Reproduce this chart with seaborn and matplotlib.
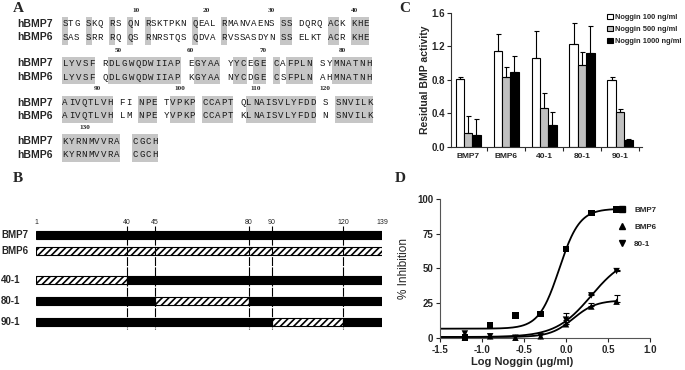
import numpy as np
import pandas as pd
import matplotlib
matplotlib.use("Agg")
import matplotlib.pyplot as plt
from matplotlib.patches import Rectangle
from matplotlib.lines import Line2D
import seaborn as sns

# ---------------- Panel A : sequence alignment ----------------
SEQ_HBMP7 = ["STG SKQ RS QN RSKTPKN QEAL RMANVAENS SS DQRQ ACK KHE",
             "LYVSF RDLGWQDWIIAP EGYAA YYCEGE CAFPLN SYMNATNH",
             "AIVQTLVH FI NPE TVPKP CCAPT QLNAISVLYFDD S SNVILK",
             "KYRNMVVRA  CGCH"]
SEQ_HBMP6 = ["SAS SRR RQ QS RNRSTQS QDVA RVSSASDYN SS ELKT ACR KHE",
             "LYVSF QDLGWQDWIIAP KGYAA NYCDGE CSFPLN AHMNATNH",
             "AIVQTLVH LM NPE YVPKP CCAPT KLNAISVLYFDD N SNVILK",
             "KYRNMVVRA  CGCH"]
ROW_FIRST_RESIDUE = [1, 43, 85, 127]
POSITION_MARKS = [[10, 20, 30, 40], [50, 60, 70, 80], [90, 100, 110, 120], [130]]

# ---------------- Panel B : chimera schematic ----------------
CONSTRUCTS_B = ["BMP7", "BMP6", "40-1", "80-1", "90-1"]
JUNCTIONS = [1, 40, 45, 80, 90, 120, 139]
SEG_CONSTRUCT = ["BMP7", "BMP6", "40-1", "40-1", "80-1", "80-1", "80-1", "90-1", "90-1", "90-1"]
SEG_START = [1, 1, 1, 40, 1, 45, 80, 1, 90, 120]
SEG_END = [139, 139, 40, 139, 45, 80, 139, 90, 120, 139]
SEG_ORIGIN = ["BMP7", "BMP6", "BMP6", "BMP7", "BMP7", "BMP6", "BMP7", "BMP7", "BMP6", "BMP7"]

# ---------------- Panel C : residual activity ----------------
C_GROUPS = ["BMP7", "BMP6", "40-1", "80-1", "90-1"]
C_DOSES = ["Noggin 100 ng/ml", "Noggin 500 ng/ml", "Noggin 1000 ng/ml"]
C_NOG100 = [0.81, 1.15, 1.06, 1.23, 0.80]
C_NOG100_ERR = [0.03, 0.20, 0.32, 0.25, 0.03]
C_NOG500 = [0.17, 0.83, 0.46, 0.98, 0.42]
C_NOG500_ERR = [0.20, 0.12, 0.19, 0.15, 0.03]
C_NOG1000 = [0.14, 0.89, 0.26, 1.12, 0.08]
C_NOG1000_ERR = [0.19, 0.20, 0.16, 0.32, 0.01]

# ---------------- Panel D : noggin inhibition ----------------
D_LOG_NOGGIN = [-1.204, -0.903, -0.602, -0.301, 0.0, 0.301, 0.602]
D_BMP7 = [0, 9, 16, 17, 64, 90, 92.5]
D_BMP7_ERR = [0, 0, 0, 0, 0, 0, 0]
D_BMP6 = [0, 1, 0, 1, 9.7, 22.5, 26]
D_BMP6_ERR = [0, 0, 0, 0, 1.5, 2.5, 4.5]
D_801 = [3, 1, 0, 1, 13, 30.5, 48]
D_801_ERR = [0, 0, 0, 0, 4.5, 1, 1]
D_NAMES = ["BMP7", "BMP6", "80-1"]
FIT_BOTTOM = [6.5, 0.5, 0.5]
FIT_TOP = [93.0, 27.0, 60.0]
FIT_LOGEC50 = [-0.08, 0.085, 0.30]
FIT_HILL = [3.6, 3.2, 2.05]

# ------------------------------------------------------------
sns.set_style("ticks")
plt.rcParams["font.family"] = ["Liberation Sans", "DejaVu Sans"]
plt.rcParams["axes.unicode_minus"] = False
plt.rcParams["hatch.linewidth"] = 1.2

W, H = 685, 370
fig = plt.figure(figsize=(W / 100, H / 100), dpi=100)


def px_rect(l, t, r, b):
    return [l / W, 1 - b / H, (r - l) / W, (b - t) / H]


ov = fig.add_axes([0, 0, 1, 1])
ov.set_xlim(0, W)
ov.set_ylim(H, 0)
ov.axis("off")

serif_bold = dict(family=["Liberation Serif", "DejaVu Serif"], fontweight="bold")
for lab, (x, y) in zip("ABCD", [(18, 8), (18, 179), (405, 8), (400, 178)]):
    ov.text(x, y, lab, ha="center", va="center", fontsize=11, **serif_bold)

# ---- Panel A drawing
ROW_Y7 = [24, 63.5, 102.5, 141]
LINE_GAP = 13.5
ROW_X0 = 62
ROW_X1 = [369, 372, 373, 158]
shade = "#c6c6c6"
for r, (s7, s6) in enumerate(zip(SEQ_HBMP7, SEQ_HBMP6)):
    y7 = ROW_Y7[r]
    y6 = y7 + LINE_GAP
    n = len(s7)
    cw = (ROW_X1[r] - ROW_X0) / n
    ov.text(17, y7, "hBMP7", ha="left", va="center", fontsize=7.5, fontweight="bold")
    ov.text(17, y6, "hBMP6", ha="left", va="center", fontsize=7.5, fontweight="bold")
    same = [(a != " " and a == b) for a, b in zip(s7, s6)]
    i = 0
    while i < n:
        if same[i]:
            j = i
            while j + 1 < n and same[j + 1]:
                j += 1
            ov.add_patch(Rectangle((ROW_X0 + i * cw, y7 - 7), (j - i + 1) * cw,
                                   LINE_GAP + 14, facecolor=shade, edgecolor="none", zorder=1))
            i = j + 1
        else:
            i += 1
    slot_of_res = {}
    k = ROW_FIRST_RESIDUE[r]
    for i, (a, b) in enumerate(zip(s7, s6)):
        xc = ROW_X0 + (i + 0.5) * cw
        if a != " ":
            slot_of_res[k] = xc
            k += 1
        for ch, yy in ((a, y7), (b, y6)):
            if ch != " ":
                ov.text(xc, yy, ch, ha="center", va="center", fontsize=6.6,
                        family=["Liberation Mono", "DejaVu Sans Mono"],
                        color="#1a1a1a", zorder=2)
    for m in POSITION_MARKS[r]:
        ov.text(slot_of_res[m], y7 - 13.5, str(m), ha="center", va="center",
                fontsize=5.2, **serif_bold)

# ---- Panel B drawing
SCHEMATIC_X = [36, 127, 155, 249, 272, 343, 382]
ROW_Y_B = [235, 251, 280, 301, 322]


def fwd(r):
    r = np.asarray(r, dtype=float)
    out = np.interp(r, JUNCTIONS, SCHEMATIC_X)
    out = np.where(r < JUNCTIONS[0], SCHEMATIC_X[0] + (r - JUNCTIONS[0]) * 2.5, out)
    out = np.where(r > JUNCTIONS[-1], SCHEMATIC_X[-1] + (r - JUNCTIONS[-1]) * 2.5, out)
    return out


def inv(p):
    p = np.asarray(p, dtype=float)
    out = np.interp(p, SCHEMATIC_X, JUNCTIONS)
    out = np.where(p < SCHEMATIC_X[0], JUNCTIONS[0] + (p - SCHEMATIC_X[0]) / 2.5, out)
    out = np.where(p > SCHEMATIC_X[-1], JUNCTIONS[-1] + (p - SCHEMATIC_X[-1]) / 2.5, out)
    return out


axB = fig.add_axes(px_rect(36, 210, 382, 340))
axB.set_xscale("function", functions=(fwd, inv))
axB.set_xlim(JUNCTIONS[0], JUNCTIONS[-1])
axB.set_ylim(340, 210)
axB.axis("off")
row_of = dict(zip(CONSTRUCTS_B, ROW_Y_B))
for c, s, e, o in zip(SEG_CONSTRUCT, SEG_START, SEG_END, SEG_ORIGIN):
    if o == "BMP7":
        axB.barh(row_of[c], e - s, left=s, height=8, color="black", edgecolor="black",
                 linewidth=0.8, zorder=2)
    else:
        axB.barh(row_of[c], e - s, left=s, height=7.5, color="white", edgecolor="black",
                 hatch="/////", linewidth=0.8, zorder=2)
axB.vlines(JUNCTIONS[1:-1], 226, 329, color="black", linewidth=0.8,
           linestyle=(0, (8, 1.2)), zorder=3)
for j in JUNCTIONS:
    axB.text(j, 222, str(j), ha="center", va="center", fontsize=5)
for c, y in zip(CONSTRUCTS_B, ROW_Y_B):
    ov.text(1, y, c, ha="left", va="center", fontsize=7, fontweight="bold")

# ---- Panel C drawing
dfC = pd.DataFrame({
    "construct": C_GROUPS * 3,
    "dose": [d for d in C_DOSES for _ in C_GROUPS],
    "activity": C_NOG100 + C_NOG500 + C_NOG1000,
})
axC = fig.add_axes(px_rect(451, 13, 642, 147))
sns.barplot(data=dfC, x="construct", y="activity", hue="dose", order=C_GROUPS,
            hue_order=C_DOSES, palette=["white", "#c0c0c0", "black"],
            edgecolor="black", linewidth=0.8, width=0.66, errorbar=None, ax=axC)
bar_containers = list(axC.containers)
handles = [cont.patches[0] for cont in bar_containers]
for cont, errs in zip(bar_containers, [C_NOG100_ERR, C_NOG500_ERR, C_NOG1000_ERR]):
    for bar, e in zip(cont.patches, errs):
        axC.errorbar(bar.get_x() + bar.get_width() / 2, bar.get_height(),
                     yerr=[[0], [e]], color="black", elinewidth=0.8, capsize=1.8,
                     capthick=0.8, zorder=1)
if axC.get_legend() is not None:
    axC.get_legend().remove()
fig.legend(handles, C_DOSES, loc="upper left", bbox_to_anchor=(604 / W, 1 - 11 / H),
           frameon=False, prop=dict(size=5.4, weight="bold"), handlelength=0.75,
           handleheight=0.75, handletextpad=0.3, labelspacing=0.6, borderaxespad=0)
axC.set_ylim(0, 1.6)
axC.set_yticks([0.0, 0.4, 0.8, 1.2, 1.6])
axC.set_yticklabels(["0.0", "0.4", "0.8", "1.2", "1.6"])
axC.set_xlim(-0.45, 4.58)
axC.set_xticks([0.5, 1.5, 2.5, 3.5, 4.5], minor=True)
axC.tick_params(axis="x", which="major", length=0, pad=4, labelsize=6)
axC.tick_params(axis="x", which="minor", length=3, width=0.8)
axC.tick_params(axis="y", length=3, width=0.8, pad=1.5, labelsize=7)
for t in axC.get_xticklabels() + axC.get_yticklabels():
    t.set_fontweight("bold")
axC.set_xlabel("")
axC.set_ylabel("Residual BMP activity", fontsize=7.5, fontweight="bold", labelpad=1)
for sp in ("top", "right"):
    axC.spines[sp].set_visible(False)
for sp in ("left", "bottom"):
    axC.spines[sp].set_linewidth(0.8)
    axC.spines[sp].set_color("#333333")

# ---- Panel D drawing
axD = fig.add_axes(px_rect(440, 199, 650, 337.7))
xfit = np.linspace(-1.5, D_LOG_NOGGIN[-1], 200)
curve_rows = []
for name, b, t, c, h in zip(D_NAMES, FIT_BOTTOM, FIT_TOP, FIT_LOGEC50, FIT_HILL):
    yfit = b + (t - b) / (1 + 10 ** ((c - xfit) * h))
    curve_rows.append(pd.DataFrame({"x": xfit, "y": yfit, "construct": name}))
dfFit = pd.concat(curve_rows, ignore_index=True)
sns.lineplot(data=dfFit, x="x", y="y", units="construct", estimator=None,
             color="black", linewidth=1.3, ax=axD, legend=False)
dfD = pd.DataFrame({
    "x": D_LOG_NOGGIN * 3,
    "y": D_BMP7 + D_BMP6 + D_801,
    "err": D_BMP7_ERR + D_BMP6_ERR + D_801_ERR,
    "construct": [n for n in D_NAMES for _ in D_LOG_NOGGIN],
})
MARKERS = {"BMP7": "s", "BMP6": "^", "80-1": "v"}
for name in D_NAMES:
    sub = dfD[dfD["construct"] == name]
    sub_e = sub[sub["err"] > 0]
    if len(sub_e):
        axD.errorbar(sub_e["x"], sub_e["y"], yerr=[np.zeros(len(sub_e)), sub_e["err"]],
                     fmt="none", ecolor="black", elinewidth=0.8, capsize=2, capthick=0.8)
sns.scatterplot(data=dfD, x="x", y="y", style="construct", markers=MARKERS,
                style_order=D_NAMES, color="black", s=22, linewidth=0,
                legend=False, ax=axD, clip_on=False, zorder=4)
axD.set_xlim(-1.5, 1.0)
axD.set_ylim(0, 100)
axD.set_xticks([-1.5, -1.0, -0.5, 0.0, 0.5, 1.0])
axD.set_xticklabels(["-1.5", "-1.0", "-0.5", "0.0", "0.5", "1.0"])
axD.set_yticks([0, 25, 50, 75, 100])
axD.tick_params(length=3, width=0.8, labelsize=7, pad=2)
for t in axD.get_xticklabels() + axD.get_yticklabels():
    t.set_fontweight("bold")
axD.set_xlabel("Log Noggin (\u03bcg/ml)", fontsize=8, fontweight="bold")
axD.xaxis.set_label_coords(0.39, -0.14)
axD.set_ylabel("% Inhibition", fontsize=8.5, labelpad=5)
for sp in ("top", "right"):
    axD.spines[sp].set_visible(False)
for sp in ("left", "bottom"):
    axD.spines[sp].set_linewidth(0.8)
    axD.spines[sp].set_color("#555555")
d_handles = [Line2D([], [], marker=MARKERS[n], linestyle="none", color="black",
                    markersize=5) for n in D_NAMES]
fig.legend(d_handles, D_NAMES, loc="upper left", bbox_to_anchor=(614 / W, 1 - 203 / H),
           frameon=False, prop=dict(size=5.8, weight="bold"), handlelength=1.2,
           handletextpad=0.9, labelspacing=1.15, borderaxespad=0)

fig.savefig("out.png", dpi=100)
